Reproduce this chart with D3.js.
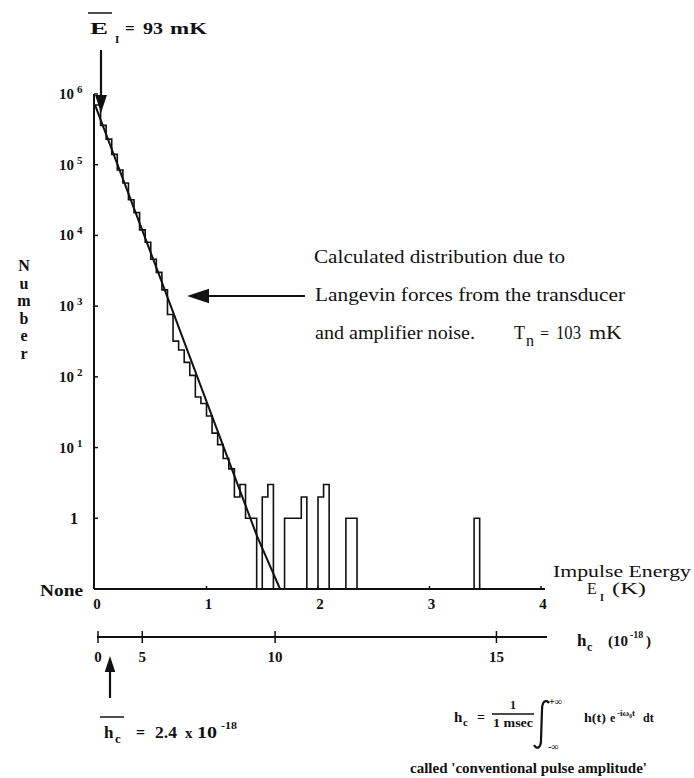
<!DOCTYPE html>
<html>
<head>
<meta charset="utf-8">
<script src="https://cdn.jsdelivr.net/npm/d3@7"></script>
<style>
  body { margin: 0; background: #fff; }
  text { fill: #111; }
  .lbl { font-family: "Liberation Serif", "Times New Roman", serif; font-weight: bold; }
  .txt { font-family: "Liberation Serif", "Times New Roman", serif; }
</style>
</head>
<body>
<svg id="chart" width="694" height="778"></svg>
<script>
// histogram bins, 0.05 K wide, starting at E = 0
const binWidth = 0.05
const counts = [700000, 360000, 230000, 140000, 84000, 55000, 32000, 21000, 12000, 8000,
    4600, 3000, 1700, 760, 320, 240, 160, 105, 52, 42,
    28, 16, 11, 7, 5, 2, 3, 1, 1, 0,
    2, 3, 0, 0, 1, 1, 1, 2, 0, 0,
    2, 3, 0, 0, 0, 1, 1, 0, 0, 0,
    0, 0, 0, 0, 0, 0, 0, 0, 0, 0,
    0, 0, 0, 0, 0, 0, 0, 0, 1, 0]

// calculated distribution (Langevin + amplifier noise)
const calcE = [0, 0.57, 1.02, 1.455, 1.66]
const calcN = [700000, 2900, 37, 0.55, 0.1]

const noneLevel = 0.1
const yDecades = [1e6, 1e5, 1e4, 1e3, 1e2, 1e1]
const yExp = ['6', '5', '4', '3', '2', '1']
const xTicks = [0, 1, 2, 3, 4]
const hTicks = [0, 5, 10, 15]
const hMax = 15.87     // h_c at E = 4 K
const numberLetters = ['N', 'u', 'm', 'b', 'e', 'r']

const svg = d3.select('#chart')

const xScale = d3.scaleLinear().domain([0, 4]).range([95, 541])
const yScale = d3.scaleLog().domain([noneLevel, 1e6]).range([589, 94])
// h_c goes as sqrt of energy
const hScale = d3.scalePow().exponent(2).domain([0, hMax]).range([95, 541])

const axisX = 94
const baseY = yScale(noneLevel)
const hAxisY = 637

drawAxes()
drawHistogram()
drawLabels()

function arrow(x1, y1, x2, y2, head) {
    const a = Math.atan2(y2 - y1, x2 - x1)
    const hw = head * 0.33
    svg.append('line')
        .attr('x1', x1).attr('y1', y1)
        .attr('x2', x2 - Math.cos(a) * head * 0.8).attr('y2', y2 - Math.sin(a) * head * 0.8)
        .attr('stroke', '#111').attr('stroke-width', 2.2)
    const bx = x2 - Math.cos(a) * head, by = y2 - Math.sin(a) * head
    svg.append('path')
        .attr('d', 'M' + x2 + ',' + y2 +
            'L' + (bx - Math.sin(a) * hw) + ',' + (by + Math.cos(a) * hw) +
            'L' + (bx + Math.sin(a) * hw) + ',' + (by - Math.cos(a) * hw) + 'Z')
        .attr('fill', '#111')
}

function put(cls, x, y, size, str, len) {
    const t = svg.append('text').attr('class', cls)
        .attr('x', x).attr('y', y)
        .style('font-size', size + 'px')
        .text(str)
    if (len) t.attr('textLength', len).attr('lengthAdjust', 'spacingAndGlyphs')
    return t
}

function drawAxes() {
    // vertical axis
    svg.append('line')
        .attr('x1', axisX).attr('y1', yScale(1e6))
        .attr('x2', axisX).attr('y2', baseY)
        .attr('stroke', '#111').attr('stroke-width', 2)

    // decade ticks
    svg.selectAll('.ytick')
        .data(yDecades.concat([1]))
        .join('line')
        .attr('class', 'ytick')
        .attr('x1', axisX).attr('x2', axisX + 4)
        .attr('y1', d => yScale(d)).attr('y2', d => yScale(d))
        .attr('stroke', '#111').attr('stroke-width', 1.5)

    // energy axis
    svg.append('line')
        .attr('x1', axisX).attr('y1', baseY)
        .attr('x2', xScale(4) + 4).attr('y2', baseY)
        .attr('stroke', '#111').attr('stroke-width', 2)

    svg.selectAll('.xtick')
        .data(xTicks.slice(1))
        .join('line')
        .attr('class', 'xtick')
        .attr('x1', d => xScale(d)).attr('x2', d => xScale(d))
        .attr('y1', baseY).attr('y2', baseY - 3)
        .attr('stroke', '#111').attr('stroke-width', 1.5)

    svg.selectAll('.xlab')
        .data(xTicks)
        .join('text')
        .attr('class', 'lbl')
        .attr('x', d => xScale(d) + 2)
        .attr('y', baseY + 20)
        .attr('text-anchor', 'middle')
        .style('font-size', '15px')
        .text(d => d)

    // h_c axis
    svg.append('line')
        .attr('x1', hScale(0) + 2).attr('y1', hAxisY)
        .attr('x2', hScale(hMax) + 6).attr('y2', hAxisY)
        .attr('stroke', '#111').attr('stroke-width', 2)

    svg.selectAll('.htick')
        .data(hTicks)
        .join('line')
        .attr('class', 'htick')
        .attr('x1', d => hScale(d) + 3).attr('x2', d => hScale(d) + 3)
        .attr('y1', hAxisY - 6).attr('y2', hAxisY + 6)
        .attr('stroke', '#111').attr('stroke-width', 1.5)

    svg.selectAll('.hlab')
        .data(hTicks)
        .join('text')
        .attr('class', 'lbl')
        .attr('x', d => hScale(d) + 3)
        .attr('y', hAxisY + 25)
        .attr('text-anchor', 'middle')
        .style('font-size', '15px')
        .text(d => d)
}

function drawHistogram() {
    let pts = counts.map((c, i) => [i * binWidth, c > 0 ? c : noneLevel])
    pts.push([counts.length * binWidth, noneLevel])

    const step = d3.line()
        .x(d => xScale(d[0]))
        .y(d => yScale(d[1]))
        .curve(d3.curveStepAfter)

    svg.append('path')
        .attr('d', step(pts))
        .attr('fill', 'none')
        .attr('stroke', '#111')
        .attr('stroke-width', 1.6)

    const calc = d3.line()
        .x((d, i) => xScale(calcE[i]))
        .y(d => yScale(d))

    svg.append('path')
        .attr('d', calc(calcN))
        .attr('fill', 'none')
        .attr('stroke', '#111')
        .attr('stroke-width', 2)
}

function drawLabels() {
    // y tick labels
    yDecades.forEach((d, i) => {
        put('lbl', 74, yScale(d) + 5, 15, '10').attr('text-anchor', 'end')
        put('lbl', 77, yScale(d) - 1, 11, yExp[i])
    })
    put('lbl', 78, yScale(1) + 6, 16, '1').attr('text-anchor', 'end')
    put('lbl', 40, baseY + 7, 17, 'None', 43)

    // "Number" written downwards
    svg.selectAll('.numlet')
        .data(numberLetters)
        .join('text')
        .attr('class', 'lbl')
        .attr('x', 24)
        .attr('y', (d, i) => 271 + i * 17.6)
        .attr('text-anchor', 'middle')
        .style('font-size', '16px')
        .text(d => d)

    // mean impulse energy marker
    put('lbl', 90, 34, 17, 'E', 18)
    svg.append('line')
        .attr('x1', 88).attr('x2', 112).attr('y1', 13).attr('y2', 13)
        .attr('stroke', '#111').attr('stroke-width', 1.5)
    put('lbl', 115, 43, 11, 'I')
    put('lbl', 125, 34, 17, '=')
    put('lbl', 143, 34, 17, '93', 20)
    put('lbl', 170, 34, 17, 'mK', 37)
    arrow(101, 50, 101, 113, 18)

    // energy axis title
    put('txt', 553, 577, 17, 'Impulse Energy', 138)
    put('txt', 587, 594, 16, 'E')
    put('lbl', 600, 601, 10, 'I')
    put('txt', 612, 594, 16, '(K)', 34)

    // h_c axis title
    put('lbl', 577, 646, 17, 'h')
    put('lbl', 587, 651, 12, 'c')
    put('lbl', 608, 646, 15, '(10', 20)
    put('lbl', 630, 638, 10, '-18')
    put('lbl', 646, 646, 15, ')')

    // mean h_c marker
    arrow(110, 698, 110, 656, 16)
    svg.append('line')
        .attr('x1', 100).attr('x2', 124).attr('y1', 717).attr('y2', 717)
        .attr('stroke', '#111').attr('stroke-width', 1.5)
    put('lbl', 104, 738, 17, 'h')
    put('lbl', 115, 743, 13, 'c')
    put('lbl', 136, 738, 16, '=')
    put('lbl', 155, 738, 16, '2.4', 22)
    put('lbl', 185, 738, 15, 'x')
    put('lbl', 197, 738, 16, '10', 20)
    put('lbl', 221, 729, 10, '-18', 16)

    // annotation for the calculated curve
    put('txt', 314, 263, 18, 'Calculated distribution due to', 251)
    put('txt', 315, 301, 18, 'Langevin forces from the transducer', 310)
    put('txt', 315, 339, 18, 'and amplifier noise.', 160)
    put('txt', 514, 339, 18, 'T')
    put('txt', 526, 346, 16, 'n')
    put('txt', 540, 339, 16, '=')
    put('txt', 556, 339, 18, '103', 25)
    put('txt', 589, 339, 18, 'mK', 33)
    arrow(305, 296, 187, 296, 22)

    // definition of h_c
    put('lbl', 454, 722, 15, 'h')
    put('lbl', 463, 726, 11, 'c')
    put('lbl', 477, 722, 14, '=')
    put('lbl', 513, 709, 12, '1').attr('text-anchor', 'middle')
    svg.append('line')
        .attr('x1', 492).attr('x2', 534).attr('y1', 714).attr('y2', 714)
        .attr('stroke', '#111').attr('stroke-width', 1.3)
    put('lbl', 513, 727, 12, '1 msec', 40).attr('text-anchor', 'middle')
    svg.append('path')
        .attr('d', 'M534,745 C537,750 541,748 541,740 L542,710 C542,701 546,699 549,703')
        .attr('fill', 'none').attr('stroke', '#111').attr('stroke-width', 2.2)
    put('lbl', 549, 705, 10, '+\u221E')
    put('lbl', 548, 750, 10, '-\u221E')
    put('lbl', 584, 722, 12, 'h(t)', 22)
    put('lbl', 610, 722, 12, 'e')
    put('lbl', 617, 716, 8, '-i\u03C9\u2080t', 18)
    put('lbl', 643, 722, 12, 'dt')
    put('lbl', 410, 773, 14, "called 'conventional  pulse  amplitude'", 237)
}
</script>
</body>
</html>
